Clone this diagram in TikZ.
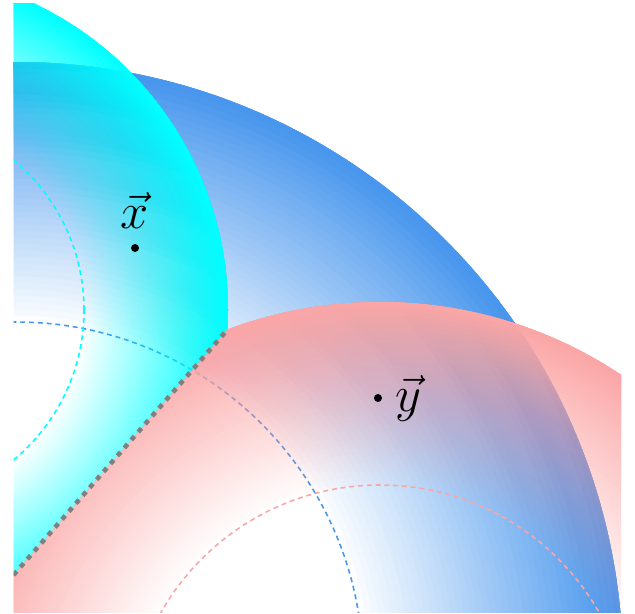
\documentclass[tikz,border=0pt]{standalone}
\usepackage{amsmath}
\usepackage{tikz}
\usetikzlibrary{
  calc,
  positioning
}
\tikzset{>=stealth}
\definecolor{ballblue}{RGB}{72,150,237}
\definecolor{ballcyan}{RGB}{0,255,255}
\definecolor{ballpink}{RGB}{251,166,166}
\newcommand{\ringball}[5]{%
  \foreach \k in {1,...,#5}{
    \pgfmathsetmacro{\ringin}{#3+(#4-#3)*(\k-1)/#5}
    \pgfmathsetmacro{\ringop}{1/(#5-\k+1)}
    \fill[#1, fill opacity=\ringop, even odd rule] (#2) circle (#4) circle (\ringin);
  }}
\tikzset{
  rim/.style={line width=0.45pt, dash pattern=on 1.4pt off 1.1pt},
  cut/.style={gray, line width=1.3pt, dash pattern=on 1.4pt off 1.6pt},
  pt/.style={circle, fill=black, inner sep=0pt, minimum size=0.8mm},
  tag/.style={font=\Large}
}

\begin{document}
\begin{tikzpicture}[x=0.1mm, y=0.1mm]
	\useasboundingbox (0,0) rectangle (635,613);
	\coordinate (cx) at (-111,303);
	\coordinate (cq) at (16,-56);
	\coordinate (cy) at (380,-124);
	\coordinate (foot) at (13.5,38);
	\coordinate (meet) at (228,284);
	\coordinate (far) at ($(foot)!3.2!(meet)$);
	\begin{scope}
		\clip (13.5,1) rectangle (621,610);
		\ringball{ballblue}{cq}{347}{607}{40}
		\draw[ballblue, rim] (cq) circle (347);
		\begin{scope}
			\clip (foot) -- (far) -- (13.5,830) -- cycle;
			\ringball{ballcyan}{cx}{195}{339}{40}
			\draw[ballcyan, rim] (cx) circle (195);
		\end{scope}
		\begin{scope}
			\clip (foot) -- (far) -- (720,-20) -- (13.5,-20) -- cycle;
			\ringball{ballpink}{cy}{252}{435}{40}
			\draw[ballpink, rim] (cy) circle (252);
		\end{scope}
		\draw[cut] (foot) -- (meet);
	\end{scope}
	\node[pt] (xpt) at (135,365) {};
	\node[pt] (ypt) at (378,215) {};
	\node[tag, above=0.2mm of xpt] (xlab) {$\vec{x}$};
	\node[tag, right=0mm of ypt] (ylab) {$\vec{y}$};
\end{tikzpicture}
\end{document}
